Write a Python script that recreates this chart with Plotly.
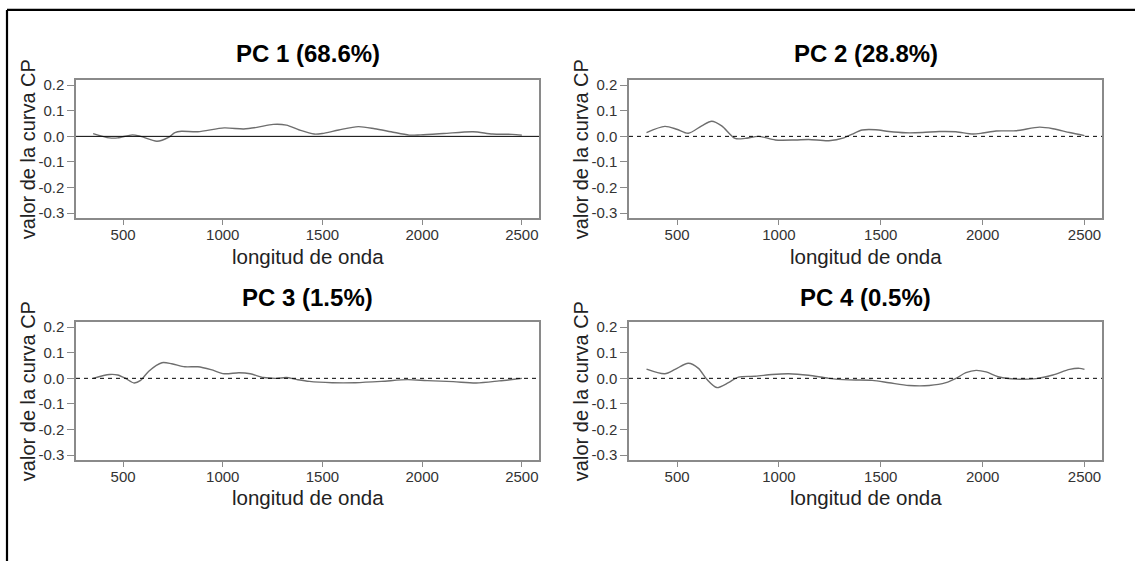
import plotly.graph_objects as go

# ---------------- data ----------------
titles = ["PC 1 (68.6%)", "PC 2 (28.8%)", "PC 3 (1.5%)", "PC 4 (0.5%)"]

pc1_x = [350, 432, 473, 547, 588, 670, 728, 760, 793, 875, 1007, 1105, 1171, 1253, 1319,
         1384, 1458, 1499, 1582, 1680, 1762, 1844, 1935, 1992, 2107, 2255, 2353, 2452, 2500]
pc1_y = [0.011, -0.006, -0.006, 0.006, 0.0, -0.019, -0.004, 0.015, 0.020, 0.018, 0.033, 0.029,
         0.035, 0.047, 0.044, 0.025, 0.009, 0.011, 0.025, 0.038, 0.030, 0.018, 0.005, 0.006,
         0.011, 0.018, 0.009, 0.008, 0.005]

pc2_x = [350, 440, 498, 555, 621, 670, 719, 785, 834, 900, 982, 1081, 1146, 1245, 1319, 1360,
         1409, 1475, 1540, 1622, 1705, 1787, 1869, 1951, 2000, 2066, 2164, 2279, 2345, 2427, 2500]
pc2_y = [0.015, 0.039, 0.028, 0.012, 0.041, 0.059, 0.041, -0.008, -0.008, 0.0, -0.014, -0.014,
         -0.012, -0.017, -0.006, 0.009, 0.025, 0.026, 0.019, 0.014, 0.015, 0.019, 0.018, 0.009,
         0.013, 0.021, 0.022, 0.036, 0.030, 0.015, 0.003]

pc3_x = [350, 432, 473, 514, 555, 588, 629, 695, 744, 810, 875, 941, 1007, 1081, 1138, 1204,
         1270, 1319, 1368, 1434, 1549, 1664, 1795, 1926, 2025, 2156, 2271, 2386, 2500]
pc3_y = [0.0, 0.015, 0.013, -0.001, -0.018, -0.008, 0.028, 0.061, 0.057, 0.045, 0.045, 0.034,
         0.018, 0.022, 0.018, 0.003, 0.0, 0.003, -0.004, -0.012, -0.017, -0.017, -0.012, -0.005,
         -0.009, -0.013, -0.018, -0.010, 0.0]

pc4_x = [350, 440, 490, 555, 605, 646, 695, 752, 801, 884, 966, 1048, 1146, 1245, 1343, 1458,
         1540, 1639, 1738, 1820, 1869, 1918, 1968, 2017, 2082, 2164, 2263, 2345, 2427, 2476, 2500]
pc4_y = [0.036, 0.018, 0.035, 0.059, 0.039, -0.004, -0.036, -0.017, 0.005, 0.008, 0.015, 0.018,
         0.012, 0.0, -0.006, -0.008, -0.017, -0.028, -0.028, -0.017, 0.0, 0.022, 0.031, 0.025,
         0.005, -0.003, -0.001, 0.013, 0.035, 0.039, 0.035]

x_ticks = [500, 1000, 1500, 2000, 2500]
y_ticks = [0.2, 0.1, 0.0, -0.1, -0.2, -0.3]
y_tick_text = ["0.2", "0.1", "0.0", "-0.1", "-0.2", "-0.3"]
x_label = "longitud de onda"
y_label = "valor de la curva CP"

series_x = [pc1_x, pc2_x, pc3_x, pc4_x]
series_y = [pc1_y, pc2_y, pc3_y, pc4_y]
zero_dash = ["solid", "4px,4px", "4px,4px", "4px,4px"]

# ---------------- layout ----------------
W, H = 1135, 564
# plot boxes in pixels: (left, right, top, bottom)
boxes = [(76, 539, 77, 217), (629, 1102, 77, 217),
         (76, 539, 322, 462), (629, 1102, 322, 462)]
title_y = [50, 50, 297, 297]
xlab_y = [256, 256, 500, 500]
ylab_x = [28, 581, 28, 581]

FONT = "Liberation Sans"
GRAY = "#8a8a8a"

fig = go.Figure()
annotations = []
shapes = []

for i in range(4):
    l, r, t, b = boxes[i]
    sfx = "" if i == 0 else str(i + 1)
    xa, ya = "x" + sfx, "y" + sfx
    fig.add_trace(go.Scatter(
        x=series_x[i], y=series_y[i], mode="lines",
        line=dict(color="#6e6e6e", width=1.4, shape="spline", smoothing=0.8),
        xaxis=xa, yaxis=ya, showlegend=False, hoverinfo="skip"))
    ax_common = dict(showgrid=False, zeroline=False, showline=True, mirror=True,
                     linecolor=GRAY, linewidth=1.5, ticks="outside",
                     tickcolor=GRAY, tickwidth=1.2,
                     tickfont=dict(family=FONT, size=15, color="#333333"))
    fig.layout["xaxis" + sfx] = dict(
        ax_common, domain=[l / W, r / W], range=[264, 2586], ticklen=5,
        ticklabelstandoff=-3,
        tickmode="array", tickvals=x_ticks, anchor=ya)
    fig.layout["yaxis" + sfx] = dict(
        ax_common, domain=[1 - b / H, 1 - t / H], range=[-0.32, 0.22], ticklen=7,
        tickmode="array", tickvals=y_ticks, ticktext=y_tick_text, anchor=xa)
    shapes.append(dict(type="line", xref=xa + " domain", yref=ya, x0=0, x1=1, y0=0, y1=0,
                       line=dict(color="black", width=1, dash=zero_dash[i])))
    cx = (l + r) / 2 / W
    annotations.append(dict(text="<b>" + titles[i] + "</b>", xref="paper", yref="paper",
                            x=cx, y=1 - title_y[i] / H, xanchor="center", yanchor="middle",
                            showarrow=False, font=dict(family=FONT, size=24, color="black")))
    annotations.append(dict(text=x_label, xref="paper", yref="paper",
                            x=cx, y=1 - xlab_y[i] / H, xanchor="center", yanchor="middle",
                            showarrow=False, font=dict(family=FONT, size=20.5, color="#222222")))
    annotations.append(dict(text=y_label, xref="paper", yref="paper", textangle=-90,
                            x=ylab_x[i] / W, y=1 - (t + b) / 2 / H,
                            xanchor="center", yanchor="middle",
                            showarrow=False, font=dict(family=FONT, size=20, color="#222222")))

# outer frame (left and top edges)
shapes.append(dict(type="line", xref="paper", yref="paper", x0=7 / W, x1=7 / W,
                   y0=0, y1=1 - 6 / H, line=dict(color="black", width=2.2)))
shapes.append(dict(type="line", xref="paper", yref="paper", x0=7 / W, x1=1,
                   y0=1 - 6 / H, y1=1 - 6 / H, line=dict(color="black", width=2.2)))

fig.update_layout(width=W, height=H, margin=dict(l=0, r=0, t=0, b=0),
                  paper_bgcolor="white", plot_bgcolor="white",
                  annotations=annotations, shapes=shapes, showlegend=False)

fig.write_html("out.html")
